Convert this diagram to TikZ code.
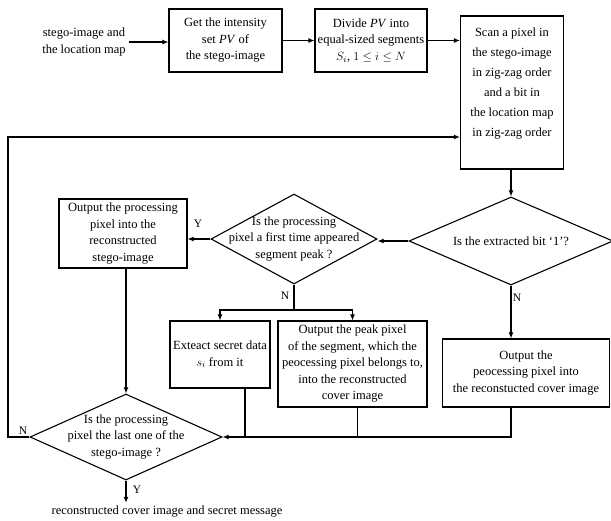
\documentclass[tikz,border=0pt]{standalone}
\usepackage{fontspec}
\setmainfont{Liberation Serif}
\usetikzlibrary{arrows.meta,shapes.geometric}
\tikzset{
  flowarr/.style={-{Latex[length=6pt,width=5pt]}, line width=1.1pt},
  flowline/.style={line width=1.1pt},
  flowbox/.style={draw, line width=1.1pt, align=center, inner sep=1pt},
  flowdec/.style={draw, diamond, line width=1.1pt, inner sep=0pt},
}

\begin{document}
\begin{tikzpicture}[
  x=1pt, y=-1pt,
  font=\fontsize{12.5}{16.5}\selectfont,
  yn/.style={font=\fontsize{11.5}{12}\selectfont},
]
  \useasboundingbox (0,0) rectangle (611,520);
  % top row
  \node[align=center] (in) at (84,42) {stego-image and\\the location map};
  \node[flowbox, minimum width=113pt, minimum height=63pt] (get) at (225.5,40.5)
    {Get the intensity\\set \textit{PV} of\\the stego-image};
  \node[flowbox, minimum width=112pt, minimum height=63pt] (div) at (371,40.5)
    {Divide \textit{PV} into\\equal-sized segments\\$S_i$, $1\le i\le N$};
  \node[flowbox, minimum width=103pt, minimum height=153pt, font=\fontsize{12.5}{20}\selectfont] (scan) at (512,92.5)
    {Scan a pixel in\\the stego-image\\in zig-zag order\\and a bit in\\the location map\\in zig-zag order\\\mbox{}};
  \foreach \a/\b in {in/get,get/div,div/scan}
    \draw[flowarr] (\a.east) -- (\a.east -| \b.west);

  % decisions
  \node[flowdec, minimum width=204pt, minimum height=88pt,
    label={[align=center]center:Is the extracted bit `1'?}] (bit) at (511,241) {};
  \node[flowdec, minimum width=166pt, minimum height=90pt,
    label={[align=center]center:Is the processing\\pixel a first time appeared\\segment peak ?}] (peak) at (294,239) {};
  \node[flowbox, minimum width=128pt, minimum height=69pt] (outs) at (123,233.5)
    {Output the processing\\pixel into the\\reconstructed\\stego-image};
  \draw[flowarr] (scan.south -| bit.north) -- (bit.north);
  \draw[flowarr] (bit.west) -- (bit.west -| peak.east);
  \draw[flowarr] (peak.west) -- (peak.west -| outs.east);
  \node[yn] (ylab) at (198,224) {Y};

  % N branch of peak test
  \node[flowbox, minimum width=100pt, minimum height=67pt] (ext) at (220,354.5)
    {Exteact secret data\\$s_i$ from it};
  \node[flowbox, minimum width=149pt, minimum height=86pt] (opk) at (352.5,364)
    {Output the peak pixel\\of the segment, which the\\peocessing pixel belongs to,\\into the reconstructed\\cover image};
  \node[flowbox, minimum width=167pt, minimum height=68pt] (opc) at (526,373)
    {Output the\\peocessing pixel into\\the reconstucted cover image};
  \coordinate (split) at (294,310);
  \draw[flowline] (peak.south) -- (split);
  \draw[flowarr] (split) -| (ext.north);
  \draw[flowarr] (split) -| (opk.north);
  \node[yn] (nlab1) at (285,296) {N};
  \draw[flowarr] (bit.south) -- (bit.south |- opc.north);
  \node[yn] (nlab2) at (517,298) {N};

  % last pixel test
  \node[flowdec, minimum width=192pt, minimum height=86pt,
    label={[align=center]center:Is the processing\\pixel the last one of the\\stego-image ?}] (last) at (126,437) {};
  \draw[flowarr] (outs.south -| last.north) -- (last.north);
  \draw[flowarr] (bit.south |- opc.south) |- (last.east);
  \draw[flowline] ([xshift=25pt]ext.south) -- ([xshift=25pt]ext.south |- last.east);
  \draw[flowline] ([xshift=5pt]opk.south) -- ([xshift=5pt]opk.south |- last.east);
  \coordinate (back) at (8,137);
  \draw[flowarr] (last.west) -| (back) -- (back -| scan.west);
  \node[yn] (nlab3) at (23,431) {N};

  % result
  \node (res) at (167,512) {reconstructed cover image and secret message};
  \draw[flowarr] (last.south) -- (last.south |- res.north);
  \node[yn] (ylab2) at (137,490) {Y};
\end{tikzpicture}
\end{document}
